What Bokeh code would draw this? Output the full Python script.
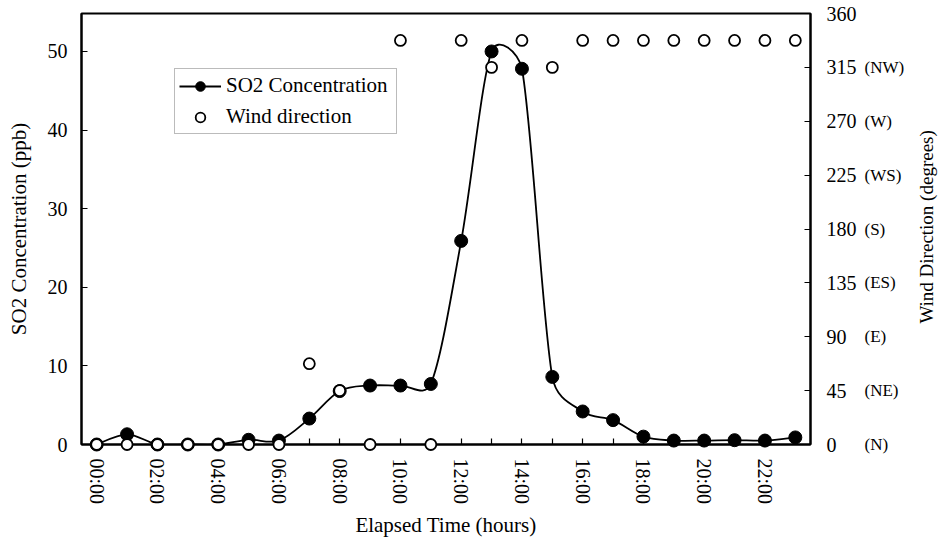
import math

from bokeh.embed import file_html
from bokeh.models import (ColumnDataSource, FixedTicker, Legend, LegendItem,
                          LinearAxis, Range1d)
from bokeh.plotting import figure
from bokeh.resources import INLINE

# ---- data -------------------------------------------------------------
hours = list(range(24))
hour_labels = [f"{h:02d}:00" if h % 2 == 0 else "" for h in hours]

so2_ppb = [0.0, 1.3, 0.0, 0.0, 0.0, 0.6, 0.5, 3.3, 6.8, 7.5, 7.5, 7.7,
           25.9, 50.0, 47.8, 8.6, 4.2, 3.1, 1.0, 0.5, 0.5, 0.55, 0.5, 0.9]

wind_deg = [0, 0, 0, 0, 0, 0, 0, 67.5, 45, 0, 337.5, 0,
            337.5, 315, 337.5, 315, 337.5, 337.5, 337.5, 337.5, 337.5,
            337.5, 337.5, 337.5]

so2_ticks = [0, 10, 20, 30, 40, 50]
deg_ticks = [0, 45, 90, 135, 180, 225, 270, 315, 360]
dir_names = ["(N)", "(NE)", "(E)", "(ES)", "(S)", "(WS)", "(W)", "(NW)", ""]
wind_title = "Wind Direction (degrees)"
wind_title_at = 101  # degrees: where the upward-reading title starts

# ---- layout -----------------------------------------------------------
W, H = 950, 543
B_LEFT, B_RIGHT, B_TOP, B_BOTTOM = 81, 133, 13, 99
X0, X1 = -0.5, 23.5
Y0, Y1 = 0.0, 54.83
FONT = "Liberation Serif"

p = figure(width=W, height=H, output_backend="svg", toolbar_location=None,
           x_range=Range1d(X0, X1), y_range=Range1d(Y0, Y1),
           min_border_left=B_LEFT, min_border_right=B_RIGHT,
           min_border_top=B_TOP, min_border_bottom=B_BOTTOM,
           background_fill_color="white", border_fill_color="white")
p.grid.visible = False
p.outline_line_color = "black"
p.outline_line_width = 2
p.extra_y_ranges = {"wind": Range1d(0, 360)}


def style_axis(ax, tick_size="20px", title_size="21px"):
    ax.axis_line_color = "black"
    ax.axis_line_width = 2
    ax.major_tick_in = 6
    ax.major_tick_out = 0
    ax.major_tick_line_width = 1.2
    ax.minor_tick_line_color = None
    ax.major_label_text_font = FONT
    ax.major_label_text_font_size = tick_size
    ax.major_label_text_color = "black"
    ax.axis_label_text_font = FONT
    ax.axis_label_text_font_size = title_size
    ax.axis_label_text_font_style = "normal"
    ax.axis_label_text_color = "black"


def bare(ax):
    ax.axis_line_color = None
    ax.major_tick_line_color = None
    ax.major_tick_in = 0


# bottom axis: hourly ticks, labels every two hours, written vertically
xa = p.xaxis[0]
style_axis(xa)
xa.ticker = FixedTicker(ticks=hours)
xa.major_label_overrides = {h: lab for h, lab in zip(hours, hour_labels)}
xa.major_label_orientation = "vertical"
xa.major_label_standoff = 14
xa.axis_label = "Elapsed Time (hours)"
xa.axis_label_standoff = 6

# left axis: SO2 concentration
ya = p.yaxis[0]
style_axis(ya)
ya.ticker = FixedTicker(ticks=so2_ticks)
ya.major_label_standoff = 14
ya.axis_label = "SO2 Concentration (ppb)"
ya.axis_label_standoff = 14

# right side: degrees, compass names, then the title reading upwards
ax_deg = LinearAxis(y_range_name="wind", ticker=FixedTicker(ticks=deg_ticks))
style_axis(ax_deg)
ax_deg.major_label_standoff = 16
p.add_layout(ax_deg, "right")

ax_dir = LinearAxis(y_range_name="wind", ticker=FixedTicker(ticks=deg_ticks))
style_axis(ax_dir, tick_size="17px")
bare(ax_dir)
ax_dir.major_label_standoff = 5
ax_dir.major_label_overrides = {d: n for d, n in zip(deg_ticks, dir_names)}
p.add_layout(ax_dir, "right")

ax_title = LinearAxis(y_range_name="wind",
                      ticker=FixedTicker(ticks=[wind_title_at]))
style_axis(ax_title, tick_size="19px")
bare(ax_title)
ax_title.major_label_standoff = 19
ax_title.major_label_overrides = {wind_title_at: wind_title}
ax_title.major_label_orientation = math.pi / 2
p.add_layout(ax_title, "right")

# ---- smoothed SO2 curve (cubic Bezier segments, tangents in pixel space) ----
fw = W - B_LEFT - B_RIGHT
fh = H - B_TOP - B_BOTTOM
sx = fw / (X1 - X0)
sy = fh / (Y1 - Y0)
pts = [(h * sx, v * sy) for h, v in zip(hours, so2_ppb)]
n = len(pts)

seg = {k: [] for k in ("x0", "y0", "x1", "y1", "cx0", "cy0", "cx1", "cy1")}
for i in range(n - 1):
    p0 = pts[i - 1] if i > 0 else pts[i]
    p1 = pts[i]
    p2 = pts[i + 1]
    p3 = pts[i + 2] if i + 2 < n else pts[i + 1]
    d12 = math.dist(p1, p2)
    d02 = math.dist(p0, p2)
    d13 = math.dist(p1, p3)
    f0 = 1 / 6 if d02 / 6 < d12 / 2 else d12 / d02 / 2
    f3 = 1 / 6 if d13 / 6 < d12 / 2 else d12 / d13 / 2
    c1 = (p1[0] + (p2[0] - p0[0]) * f0, p1[1] + (p2[1] - p0[1]) * f0)
    c2 = (p2[0] - (p3[0] - p1[0]) * f3, p2[1] - (p3[1] - p1[1]) * f3)
    seg["x0"].append(p1[0] / sx); seg["y0"].append(p1[1] / sy)
    seg["x1"].append(p2[0] / sx); seg["y1"].append(p2[1] / sy)
    seg["cx0"].append(c1[0] / sx); seg["cy0"].append(c1[1] / sy)
    seg["cx1"].append(c2[0] / sx); seg["cy1"].append(c2[1] / sy)

curve = p.bezier(x0="x0", y0="y0", x1="x1", y1="y1", cx0="cx0", cy0="cy0",
                 cx1="cx1", cy1="cy1", source=ColumnDataSource(seg),
                 line_color="black", line_width=1.8)

# markers sit on the overlay level so the ones on the axis are not cut off
so2_pts = p.scatter(hours, so2_ppb, size=13, marker="circle",
                    fill_color="black", line_color="black", level="overlay")

wind_pts = p.scatter(hours, wind_deg, y_range_name="wind", size=11,
                     marker="circle", fill_color="white", line_color="black",
                     line_width=1.8, level="overlay")

legend = Legend(items=[
    LegendItem(label="SO2 Concentration", renderers=[curve, so2_pts]),
    LegendItem(label="Wind direction", renderers=[wind_pts]),
], location=(93, 310))
legend.label_text_font = FONT
legend.label_text_font_size = "21px"
legend.label_text_color = "black"
legend.glyph_width = 42
legend.glyph_height = 24
legend.label_height = 24
legend.label_width = 166
legend.label_standoff = 5
legend.spacing = 6
legend.padding = 4
legend.margin = 0
legend.border_line_color = "#777777"
legend.border_line_width = 1
legend.background_fill_color = "white"
legend.background_fill_alpha = 1.0
p.add_layout(legend)

open("out.html", "w").write(file_html(p, INLINE))
